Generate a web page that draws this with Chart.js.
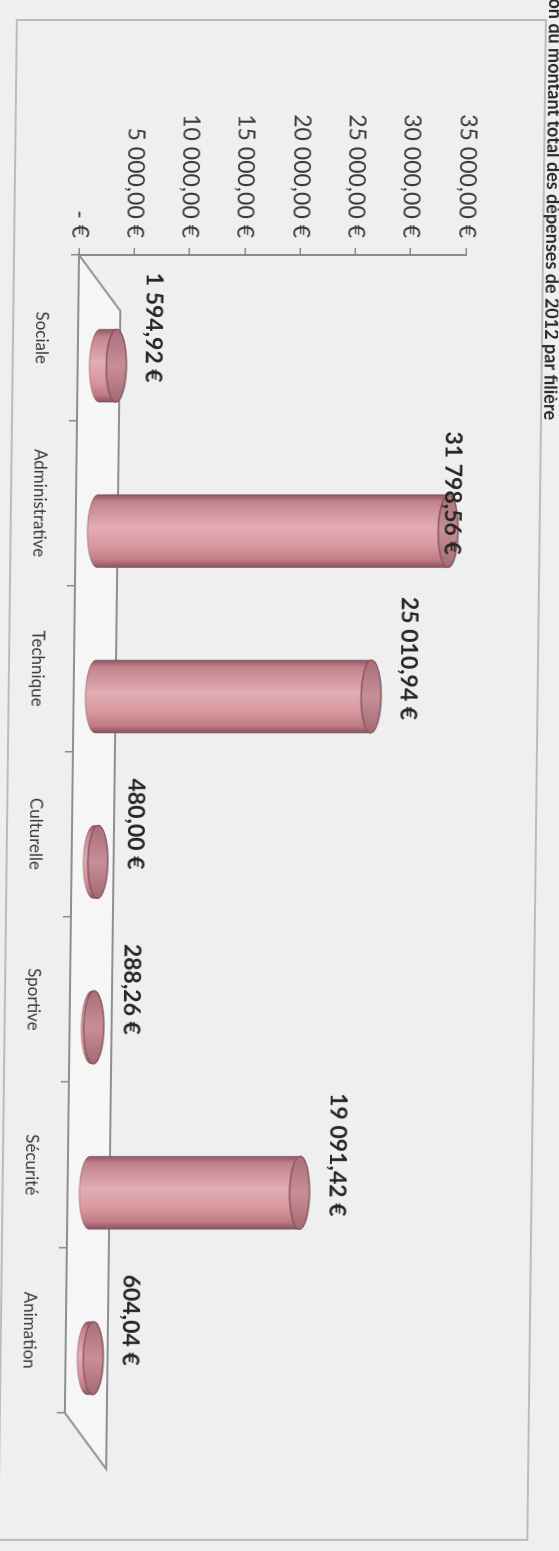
<!DOCTYPE html>
<html lang="fr">
<head>
<meta charset="utf-8">
<title>Répartition par filière</title>
<script src="https://cdn.jsdelivr.net/npm/chart.js@4.4.1/dist/chart.umd.min.js"></script>
<style>
  html, body { margin: 0; padding: 0; background: #efefef; overflow: hidden; }
  #page {
    position: relative;
    width: 559px;
    height: 1551px;
    transform-origin: 80px 255px;
    transform: skewX(-0.7deg);
  }
  /* chart is laid out as a normal column chart, then turned a quarter clockwise */
  #chart {
    position: absolute;
    left: 0;
    top: 0;
    transform-origin: 0 0;
    transform: translate(559px, 0) rotate(90deg);
  }
</style>
</head>
<body>
<div id="page">
  <canvas id="chart" width="1551" height="559"></canvas>
</div>
<script>
const categories = ["Sociale", "Administrative", "Technique", "Culturelle", "Sportive", "Sécurité", "Animation"];
const amounts = [1594.92, 31798.56, 25010.94, 480.0, 288.26, 19091.42, 604.04];
const axisTicks = [0, 5000, 10000, 15000, 20000, 25000, 30000, 35000];
const chartTitle = "Répartition du montant total des dépenses de 2012 par filière";

// "31 798,56 €" style, with a dash for zero
function euro(v) {
  if (v === 0) return "- €";
  const parts = v.toFixed(2).split(".");
  return parts[0].replace(/\B(?=(\d{3})+(?!\d))/g, " ") + "," + parts[1] + " €";
}

const DEPTH_X = 56;   // floor depth, along the category axis
const DEPTH_Y = 42;   // floor depth, towards the top
const CAP_RY = 10;    // vertical radius of the cylinder ends

function drawCylinder(ctx, cx, yTop, yBase, hw) {
  const body = ctx.createLinearGradient(cx - hw, 0, cx + hw, 0);
  body.addColorStop(0, "#8b5862");
  body.addColorStop(0.1, "#c4838d");
  body.addColorStop(0.45, "#e2adb3");
  body.addColorStop(0.72, "#d8979f");
  body.addColorStop(0.9, "#c07a85");
  body.addColorStop(1, "#87525c");

  ctx.beginPath();
  ctx.moveTo(cx - hw, yTop);
  ctx.lineTo(cx - hw, yBase);
  ctx.ellipse(cx, yBase, hw, CAP_RY, 0, Math.PI, 0, true);
  ctx.lineTo(cx + hw, yTop);
  ctx.ellipse(cx, yTop, hw, CAP_RY, 0, 0, Math.PI, false);
  ctx.closePath();
  ctx.fillStyle = body;
  ctx.fill();
  ctx.strokeStyle = "rgba(120,70,80,0.55)";
  ctx.lineWidth = 1;
  ctx.stroke();

  // top end
  const cap = ctx.createLinearGradient(cx - hw, 0, cx + hw, 0);
  cap.addColorStop(0, "#a8707a");
  cap.addColorStop(0.5, "#c98e97");
  cap.addColorStop(1, "#a46a74");
  ctx.beginPath();
  ctx.ellipse(cx, yTop, hw, CAP_RY, 0, 0, Math.PI * 2);
  ctx.fillStyle = cap;
  ctx.fill();
  ctx.strokeStyle = "#8a5863";
  ctx.lineWidth = 1.5;
  ctx.stroke();
}

const frameAndFloor = {
  id: "frameAndFloor",
  beforeDraw(chart) {
    const ctx = chart.ctx;
    ctx.save();
    ctx.strokeStyle = "#bcbcbc";
    ctx.lineWidth = 2;
    ctx.strokeRect(20, 16, 1520, 529);
    ctx.restore();
  },
  beforeDatasetsDraw(chart) {
    const { left, right, bottom } = chart.chartArea;
    const ctx = chart.ctx;
    ctx.save();
    ctx.beginPath();
    ctx.moveTo(left, bottom);
    ctx.lineTo(left + DEPTH_X, bottom - DEPTH_Y);
    ctx.lineTo(right + DEPTH_X, bottom - DEPTH_Y);
    ctx.lineTo(right, bottom);
    ctx.closePath();
    ctx.fillStyle = "#f6f6f6";
    ctx.fill();
    ctx.strokeStyle = "#8f8f8f";
    ctx.lineWidth = 2;
    ctx.stroke();
    ctx.restore();
  },
  afterDatasetsDraw(chart) {
    const ctx = chart.ctx;
    const meta = chart.getDatasetMeta(0);
    ctx.save();
    meta.data.forEach((bar, i) => {
      const p = bar.getProps(["x", "y", "base", "width"], true);
      const cx = p.x + DEPTH_X / 2;
      drawCylinder(ctx, cx, p.y - DEPTH_Y / 2, p.base - DEPTH_Y / 2, p.width / 2);

      // value label above the column
      ctx.fillStyle = "#262626";
      ctx.font = "bold 23px Lato";
      ctx.textAlign = "center";
      ctx.textBaseline = "middle";
      ctx.fillText(euro(amounts[i]), p.x - 10, Math.max(p.y - 58, 104));
    });
    ctx.restore();
  },
  afterDraw(chart) {
    const ctx = chart.ctx;
    ctx.save();
    ctx.fillStyle = "#2a2a2a";
    ctx.font = "bold 18px Lato";
    ctx.textAlign = "right";
    ctx.textBaseline = "middle";
    ctx.fillText(chartTitle, 420, 7);
    ctx.restore();
  },
};

Chart.defaults.font.family = "Lato";

new Chart(document.getElementById("chart"), {
  type: "bar",
  data: {
    labels: categories,
    datasets: [
      {
        data: amounts,
        backgroundColor: "rgba(0,0,0,0)",
        borderWidth: 0,
        barPercentage: 0.44,
        categoryPercentage: 1,
      },
    ],
  },
  options: {
    responsive: false,
    animation: false,
    events: [],
    layout: {
      padding: { left: 0, right: 138, top: 93, bottom: 0 },
    },
    plugins: {
      legend: { display: false },
      tooltip: { enabled: false },
    },
    scales: {
      x: {
        afterFit(scale) {
          scale.height = 79;
        },
        border: { display: true, color: "#8a8a8a", width: 2 },
        grid: {
          drawOnChartArea: false,
          drawTicks: true,
          tickLength: 8,
          color: "#8a8a8a",
          lineWidth: 1.5,
        },
        ticks: {
          color: "#3a3a3a",
          font: { size: 17 },
          padding: 18,
          maxRotation: 0,
          autoSkip: false,
        },
      },
      y: {
        min: axisTicks[0],
        max: axisTicks[axisTicks.length - 1],
        afterFit(scale) {
          scale.width = 255;
        },
        afterBuildTicks(scale) {
          scale.ticks = axisTicks.map((v) => ({ value: v }));
        },
        border: { display: true, color: "#8a8a8a", width: 2 },
        grid: {
          drawOnChartArea: false,
          drawTicks: true,
          tickLength: 7,
          color: "#8a8a8a",
          lineWidth: 1.5,
        },
        ticks: {
          color: "#3a3a3a",
          font: { size: 23 },
          padding: 10,
          callback: (v) => euro(v),
        },
      },
    },
  },
  plugins: [frameAndFloor],
});
</script>
</body>
</html>
